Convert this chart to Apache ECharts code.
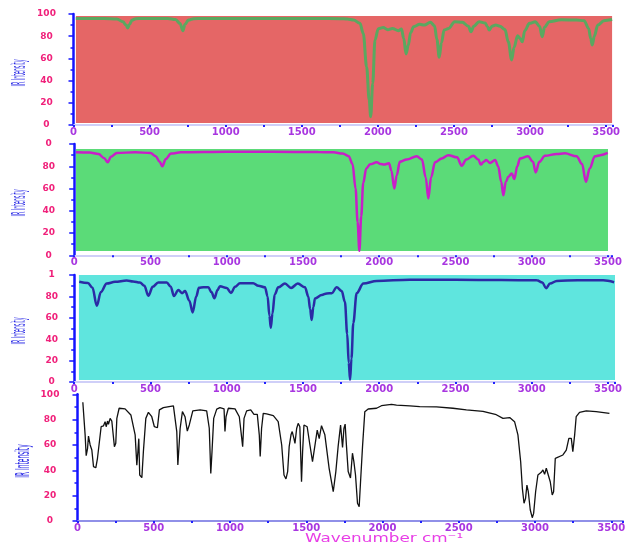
<!DOCTYPE html>
<html><head><meta charset="utf-8">
<script src="https://cdn.jsdelivr.net/npm/echarts@6/dist/echarts.min.js"></script>
<style>html,body{margin:0;padding:0;background:#fff}#c{width:626px;height:542px}</style>
</head><body><div id="c"></div>
<script>
// ---- tick labels ----
const xTickLabels = ['0','500','1000','1500','2000','2500','3000','3500'];
const p1YLabels = ['0','20','40','60','80','100'];
const p2YLabels = ['0','20','40','60','80','0'];
const p3YLabels = ['0','20','40','60','80','1'];
const p4YLabels = ['0','20','40','60','80','100'];
const yAxisTitle = 'IR Intensity';
const xAxisTitle = 'Wavenumber cm\u207B\u00B9';

// ---- panel 1 (green line on red) ----
const p1Wn  = [15,100,200,285,325,345,356,368,385,410,450,520,620,670,700,719,732,755,790,850,1000,1300,1600,1750,1800,1840,1882,1904,1926,1943,1953,1966,1981,2003,2035,2065,2095,2135,2155,2170,2185,2200,2215,2235,2275,2305,2345,2372,2388,2403,2418,2435,2465,2505,2555,2595,2612,2630,2665,2705,2720,2732,2750,2775,2802,2835,2857,2879,2895,2918,2935,2949,2965,2996,3035,3062,3080,3095,3125,3205,3305,3355,3385,3398,3409,3422,3445,3485,3539];
const p1Val = [96,96,96,95.5,93,90,87.4,90.5,94.5,95.8,96,96,96,95,91.5,85,90.5,94.5,95.8,96,96,96,96,95.8,95.5,94.6,91.6,82.6,52.5,22.5,7.5,37.5,76.6,86.8,87.8,85.8,87,85,86.5,78,64,72,83,88.5,90.7,90,92.5,89.5,77,61,74,85.6,87,93,92.5,89,84,89,93,92,88.5,85.6,89,90,89,86,75,58.6,70,80.4,78,75,85,91.6,93,89,79.6,88,93,94.8,94.5,94,87,78,72,80,90,94,95];

// ---- panel 2 (magenta line on green) ----
const p2Wn  = [12,100,160,195,220,240,280,400,500,535,560,578,600,635,700,1000,1300,1600,1700,1760,1800,1825,1845,1858,1870,1882,1895,1915,1940,1984,2010,2031,2064,2080,2099,2115,2135,2180,2246,2280,2305,2322,2340,2366,2410,2453,2510,2541,2570,2617,2650,2666,2685,2701,2727,2760,2780,2800,2814,2830,2847,2869,2886,2905,2923,2976,3008,3026,3050,3087,3164,3217,3294,3330,3355,3380,3414,3450,3498];
const p2Val = [92.5,92.3,91,87.5,83.5,88.5,92,92.5,92,89,84,80,86.5,91.5,92.5,93,93,92.8,92.5,91.5,89,82,60,30,4,35,65,78,81.7,83.5,82,81.5,82.6,76,60,72,84,86,89,86,70,51,70,83.5,87,90,88,80.5,86,89.5,86,81.5,84,85.6,83,85.6,80,66,54,66,70.6,73.6,68.5,80,87,89,84,74.5,84,89.4,91,91.6,89,82,66,78,89,90,92];

// ---- panel 3 (blue line on cyan) ----
const p3Wn  = [33,90,120,148,175,213,268,344,386,431,460,486,515,551,607,633,654,683,707,727,755,777,800,818,847,879,900,919,940,956,1000,1028,1055,1087,1174,1207,1251,1268,1280,1289,1300,1315,1338,1382,1422,1466,1513,1535,1547,1557,1568,1579,1623,1656,1689,1721,1754,1775,1790,1800,1809,1818,1830,1852,1896,1984,2200,2500,2800,3033,3070,3094,3120,3164,3300,3468,3540];
const p3Val = [93.7,92.5,88,71.3,84,92,93.6,94.9,94,93,90,80.6,89,93,93,89,80.4,86,83,85,76,65,80,88,88.6,88.6,84,78.2,86,89.6,87.9,83.2,89,92.4,92.4,90,88.5,80,62,50.8,64,82,88.5,92,87.9,92,88.5,80,68,58,70,78,81.3,82.8,83,88.5,85,75,45,18,2,22,55,83,92,94.5,95.5,95.5,95.3,95,93,87.6,92,94.5,95,95,93.3];

// ---- panel 4 (black line, no fill) ----
const p4Wn  = [35,50,57,66,72,83,94,105,120,131,144,155,170,181,188,197,203,214,225,242,251,258,273,312,350,378,389,396,402,408,422,432,448,465,487,504,524,537,563,629,640,651,658,666,673,688,705,720,733,756,804,847,864,874,882,893,913,934,961,967,974,989,1033,1061,1077,1083,1092,1109,1136,1157,1179,1192,1198,1207,1218,1240,1284,1316,1339,1354,1367,1378,1388,1400,1408,1419,1426,1437,1447,1458,1469,1476,1485,1496,1506,1524,1541,1552,1572,1585,1600,1622,1650,1677,1694,1709,1725,1738,1747,1755,1764,1775,1790,1803,1812,1823,1836,1847,1856,1869,1884,1906,1961,1993,2059,2092,2179,2244,2256,2354,2462,2550,2659,2746,2790,2834,2866,2888,2906,2917,2928,2938,2947,2956,2969,2982,2991,3004,3019,3030,3041,3052,3063,3074,3085,3100,3113,3122,3133,3143,3183,3205,3222,3238,3248,3260,3270,3292,3336,3401,3488];
const p4Val = [93.7,68,51.5,57.4,67,60,56,42.9,42,49.5,50.8,74.4,75,78.4,74.4,78.9,76.3,81,78.9,58.7,61.3,81,89,88.5,83.7,68,44,54.7,65,36.3,34.2,54.7,81,85.8,82.3,74.4,73.6,87.7,89.5,90.8,89.5,70.5,44.2,45.5,73,86.3,82.3,71,75.8,86.9,87.7,86.9,73.2,37.6,54.7,81,88.3,89.5,88.5,70.6,82.3,89,88.5,82.3,65.2,58.7,81,86.9,87.7,84.2,84.2,68,51,73,85,84.6,83.1,78.4,60,36.3,33.2,38.9,58.7,68,70.6,65.2,61.3,73,77.1,74.4,31,54.7,75.8,77.1,74.4,60,46.8,48,71.8,65,75.2,68,41.6,23.1,39,58.7,75.8,58,73,76.5,58.7,39,34,53.5,47,36.3,14,11.3,31,58.7,86.3,88.4,89,91,92,91.5,90.8,90.2,89.5,90,89,87.7,86.5,83.9,81,81.6,78.4,68,46.8,25.8,14,17.9,28.4,23.1,8.7,2.6,6,23.1,36.3,37.6,38.4,40.3,36.8,41.6,41.6,31,20.5,23.1,49.5,50.8,52.1,56,65.2,65.2,54.7,68,82.3,85.8,86.9,86.3,85];

const zip = (a, b) => a.map((v, i) => [v, b[i]]);

const panels = [
  {grid:{left:73.5, top:14,    width:539.5, height:111},   xMax:3545, yLabels:p1YLabels, yMargin:27,
   fill:'#e56666', area:[[16,1.8],[3539,98.2]], line:'#5aa860', lw:3, data:zip(p1Wn,p1Val), smooth:true,
   xLine:'#cfcff8', title:[20,73], tScale:0.25},
  {grid:{left:74.2, top:144,   width:537.6, height:111.3}, xMax:3525, yLabels:p2YLabels, yMargin:25.5,
   fill:'#5bdb78', area:[[12,3.9],[3500,95.5]], line:'#c81ec8', lw:2.5, data:zip(p2Wn,p2Val), smooth:true,
   xLine:'#cfcff8', title:[20.5,203], tScale:0.25},
  {grid:{left:74.2, top:275,   width:540.8, height:107},   xMax:3546, yLabels:p3YLabels, yMargin:22.5,
   fill:'#5fe5de', area:[[31,1.9],[3546,100]], line:'#2b2ba5', lw:2.5, data:zip(p3Wn,p3Val), smooth:true,
   xLine:'#cfcff8', title:[20.5,331], tScale:0.25},
  {grid:{left:77.5, top:394.3, width:545.5, height:126.7}, xMax:3577, yLabels:p4YLabels, yMargin:27.5,
   fill:null, area:null, line:'#111111', lw:1.3, data:zip(p4Wn,p4Val), smooth:false,
   xLine:'#9090e8', title:[24.5,461], tScale:0.31}
];

const grid = [], xAxis = [], yAxis = [], series = [], graphic = [];
panels.forEach((p, i) => {
  grid.push(Object.assign({containLabel:false, outerBoundsMode:'none'}, p.grid));
  xAxis.push({
    type:'value', gridIndex:i, min:0, max:p.xMax, interval:500,
    axisLine:{show:true, onZero:false, lineStyle:{color:p.xLine, width:2}},
    axisTick:{show:true, length:2, lineStyle:{color:'#2020ff', width:2}},
    minorTick:{show:true, splitNumber:2, length:2, lineStyle:{color:'#2020ff', width:2}},
    splitLine:{show:false}, minorSplitLine:{show:false},
    axisLabel:{show:true, margin:2, color:'#a836e0', fontSize:10, fontWeight:'bold',
      fontFamily:'DejaVu Sans', showMaxLabel:true,
      formatter:(v) => { const k = Math.round(v/500); return (v % 500 === 0 && xTickLabels[k] !== undefined) ? xTickLabels[k] : ''; }}
  });
  yAxis.push({
    type:'value', gridIndex:i, min:0, max:100, interval:20,
    axisLine:{show:true, onZero:false, lineStyle:{color:'#1414ff', width:2.5}},
    axisTick:{show:true, length:5, lineStyle:{color:'#1414ff', width:1.5}},
    minorTick:{show:true, splitNumber:2, length:3, lineStyle:{color:'#1414ff', width:1.5}},
    splitLine:{show:false}, minorSplitLine:{show:false},
    axisLabel:{show:true, margin:p.yMargin, align:'center', color:'#f0207a', fontSize:9, fontWeight:'bold',
      fontFamily:'DejaVu Sans',
      formatter:(v) => p.yLabels[Math.round(v/20)]}
  });
  if (p.area) {
    series.push({
      type:'line', xAxisIndex:i, yAxisIndex:i, z:1, data:[[p.area[0][0], p.area[0][1]]],
      symbol:'none', lineStyle:{width:0, opacity:0}, silent:true,
      markArea:{silent:true, itemStyle:{color:p.fill, opacity:1},
        data:[[{coord:p.area[0]},{coord:p.area[1]}]]}
    });
  }
  series.push({
    type:'line', xAxisIndex:i, yAxisIndex:i, z:3, data:p.data,
    symbol:'none', smooth:p.smooth ? 0.35 : false, smoothMonotone:'x',
    lineStyle:{color:p.line, width:p.lw}
  });
  graphic.push({
    type:'text', x:p.title[0], y:p.title[1], rotation:Math.PI/2, scaleX:p.tScale, scaleY:1, z:10,
    style:{text:yAxisTitle, fill:'#2a2ae6', font:'19px "DejaVu Sans"', align:'center', verticalAlign:'middle'}
  });
});
graphic.push({
  type:'text', x:305, y:533, scaleX:1.4, z:10,
  style:{text:xAxisTitle, fill:'#e83ee6', font:'12px "DejaVu Sans"', align:'left', verticalAlign:'top'}
});

const chart = echarts.init(document.getElementById('c'), null, {renderer:'canvas'});
chart.setOption({animation:false, backgroundColor:'#ffffff', grid, xAxis, yAxis, series, graphic});
</script>
</body></html>
